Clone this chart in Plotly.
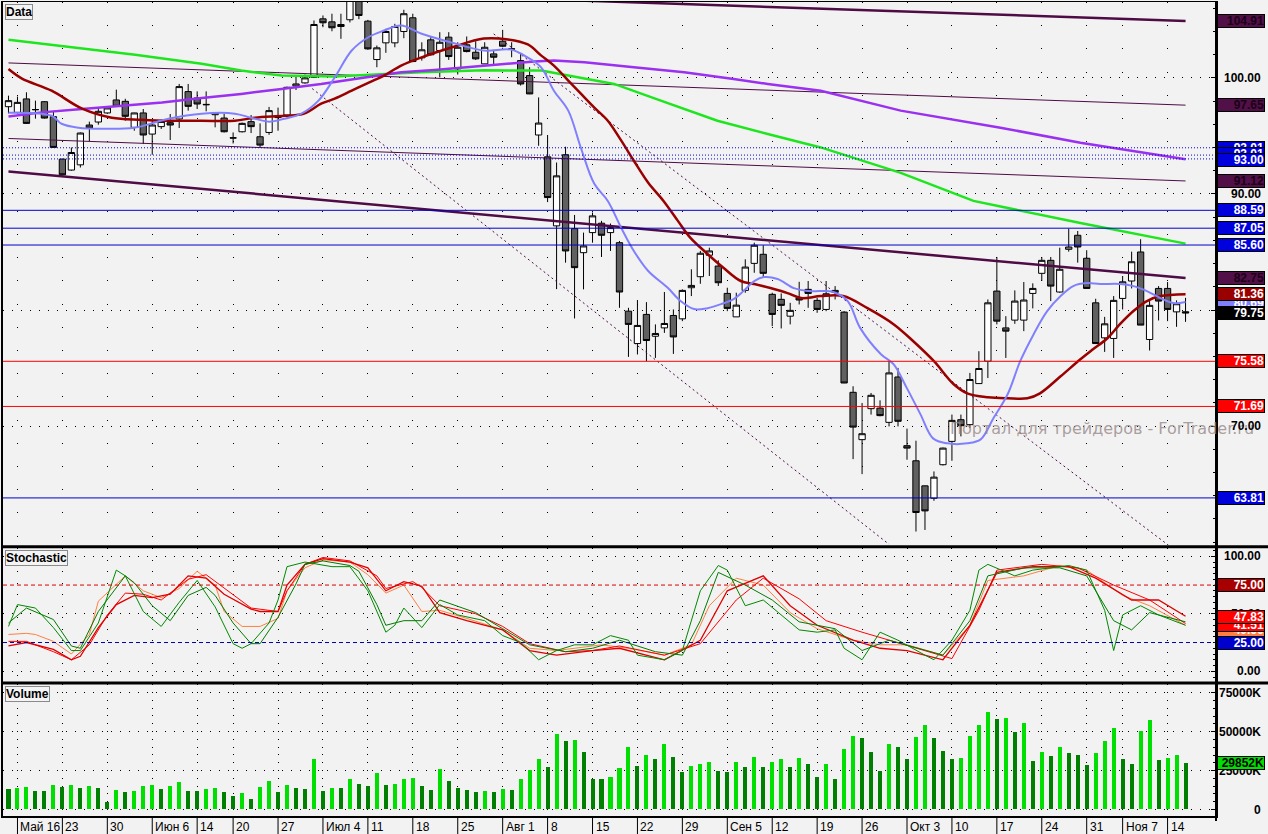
import plotly.graph_objects as go

FONT = "Liberation Sans, Arial, sans-serif"

# daily candles, 13 May - 16 Nov 2011 (one entry per trading day)
opens = [97.52, 97.03, 98.19, 97.26, 97.95, 96.66, 93.0, 92.06, 92.51, 95.94,
         96.2, 96.98, 98.1, 97.98, 95.74, 96.98, 95.16, 95.8, 96.14, 96.46,
         98.82, 98.27, 97.72, 96.83, 96.54, 94.84, 95.36, 96.23, 94.93, 95.3,
         96.58, 96.8, 99.31, 99.57, 100.05, 105.09, 104.83, 104.6, 105.01, 107.4,
         104.89, 101.58, 103.02, 103.02, 104.0, 105.18, 101.73, 103.28, 102.36, 103.51,
         100.78, 102.85, 102.21, 101.21, 102.07, 103.16, 102.48, 101.49, 100.2, 95.08,
         93.2, 87.25, 93.38, 87.01, 84.94, 86.67, 87.48, 86.67, 85.8, 79.9,
         77.11, 79.62, 77.74, 78.46, 79.53, 79.24, 81.92, 82.87, 84.72, 83.79,
         81.43, 79.41, 81.69, 84.02, 84.8, 81.35, 80.92, 79.47, 81.05, 81.78,
         80.83, 80.05, 81.52, 79.82, 72.91, 68.83, 71.5, 71.55, 70.32, 74.23,
         68.31, 67.01, 64.85, 63.78, 66.67, 68.68, 70.55, 70.12, 73.66, 75.59,
         81.63, 78.46, 79.13, 79.13, 81.43, 83.16, 84.28, 81.55, 85.23, 86.44,
         84.46, 80.62, 77.6, 77.55, 81.0, 82.5, 85.0, 77.46, 81.86, 81.86,
         79.84, 79.85]
highs = [98.47, 98.39, 98.76, 98.04, 98.0, 97.11, 93.05, 94.0, 95.3, 96.23,
         97.41, 97.55, 98.99, 98.2, 97.0, 97.32, 96.3, 96.45, 96.89, 99.48,
         99.48, 98.84, 98.84, 97.05, 96.89, 95.3, 96.15, 96.8, 96.08, 97.5,
         97.44, 99.25, 100.11, 100.29, 104.95, 105.38, 105.53, 105.53, 108.3, 108.0,
         105.0, 102.79, 104.23, 104.66, 105.87, 105.53, 103.07, 103.51, 103.94, 103.94,
         103.07, 103.57, 103.16, 103.07, 102.42, 104.14, 103.07, 102.07, 100.92, 98.32,
         95.08, 92.71, 94.07, 88.19, 86.67, 88.4, 87.68, 87.45, 85.95, 80.19,
         80.86, 80.68, 78.76, 81.55, 80.05, 81.78, 83.51, 85.09, 85.37, 84.28,
         81.92, 81.49, 84.37, 85.8, 85.58, 81.49, 81.43, 80.62, 82.43, 82.5,
         81.05, 82.5, 82.06, 79.9, 73.43, 71.99, 72.85, 72.22, 75.65, 75.01,
         69.78, 68.74, 64.87, 66.09, 68.15, 70.99, 70.99, 74.58, 76.45, 80.91,
         84.57, 79.47, 81.69, 82.41, 82.3, 84.57, 84.57, 85.37, 87.01, 86.81,
         85.15, 80.97, 79.41, 81.2, 82.93, 85.03, 86.1, 80.77, 82.06, 82.41,
         80.83, 81.05]
lows = [96.94, 96.92, 96.03, 96.49, 96.5, 94.0, 91.6, 92.0, 92.28, 94.53,
        95.97, 96.9, 97.5, 96.31, 95.45, 94.3, 93.38, 95.6, 94.65, 95.68,
        97.18, 97.32, 97.12, 95.74, 95.3, 94.35, 95.3, 95.25, 94.01, 95.1,
        95.45, 96.6, 98.96, 99.5, 100.0, 104.37, 104.02, 103.37, 104.78, 105.06,
        102.42, 100.92, 102.16, 102.64, 103.42, 101.35, 101.49, 101.93, 100.05, 101.55,
        100.29, 102.2, 101.55, 101.2, 101.06, 102.64, 101.78, 99.34, 98.6, 94.15,
        89.3, 81.8, 84.08, 79.27, 81.78, 85.8, 84.57, 85.09, 80.19, 75.96,
        76.17, 75.59, 75.87, 78.03, 76.22, 79.04, 81.2, 82.26, 82.93, 82.07,
        79.9, 79.41, 81.49, 83.21, 82.78, 78.61, 78.41, 78.76, 80.48, 80.19,
        79.76, 79.9, 80.91, 73.7, 67.15, 65.86, 70.99, 70.84, 69.97, 69.97,
        67.1, 60.91, 61.05, 63.56, 66.6, 67.01, 69.11, 69.83, 73.63, 74.14,
        78.76, 75.87, 78.81, 78.18, 80.14, 82.5, 80.77, 81.49, 85.03, 84.08,
        81.86, 77.1, 76.39, 75.87, 80.05, 81.86, 78.7, 76.51, 79.1, 79.04,
        78.55, 78.98]
closes = [98.04, 97.89, 96.08, 97.27, 96.54, 94.01, 91.65, 93.57, 95.25, 95.68,
          97.12, 97.41, 97.55, 96.69, 96.98, 95.08, 95.94, 96.25, 95.94, 99.25,
          97.55, 97.75, 97.69, 97.0, 95.36, 94.82, 96.08, 95.8, 94.21, 97.18,
          96.6, 99.19, 99.48, 100.0, 104.6, 104.75, 104.32, 104.43, 107.6, 105.38,
          102.5, 102.59, 104.0, 104.43, 105.53, 101.41, 102.42, 101.99, 103.07, 101.84,
          102.64, 102.27, 101.64, 102.64, 101.78, 102.73, 102.5, 99.48, 98.62, 96.11,
          89.69, 91.56, 85.09, 83.65, 85.52, 88.11, 86.44, 87.1, 81.55, 78.76,
          78.67, 77.37, 77.98, 78.84, 77.68, 81.69, 82.12, 84.89, 85.09, 82.35,
          80.14, 80.42, 83.7, 85.58, 83.16, 79.62, 80.4, 79.97, 80.86, 81.43,
          80.05, 81.4, 81.69, 73.71, 69.91, 69.34, 72.65, 70.9, 74.58, 70.41,
          68.1, 62.55, 62.69, 65.6, 68.1, 70.49, 70.03, 74.01, 74.96, 80.62,
          79.04, 78.18, 80.77, 80.86, 81.86, 84.28, 82.06, 83.51, 85.43, 85.43,
          81.86, 77.11, 78.81, 80.83, 82.43, 84.16, 78.7, 80.4, 80.77, 80.05,
          80.54, 79.75]
bar_index = list(range(len(closes)))

# volume, thousands of shares
volume_k = [13360, 14000, 14650, 12070, 12070, 15950, 14650, 15950, 14000, 15300,
            14000, 4960, 12700, 11420, 11600, 15300, 15400, 13360, 15300, 17890,
            12070, 12000, 13360, 14000, 11420, 8840, 10780, 6900, 14650, 18530,
            11420, 15950, 14000, 13360, 32110, 12070, 14000, 13900, 19830, 16590,
            15300, 23060, 15950, 16100, 19830, 20470, 15300, 12700, 25650, 18530,
            14000, 12700, 11420, 12070, 11420, 13360, 12700, 19830, 25000, 32110,
            26940, 48280, 43750, 44400, 36640, 19830, 19700, 21120, 26290, 39870,
            27590, 34700, 32110, 41810, 33400, 23700, 27590, 28880, 30170, 24350,
            23700, 30170, 26940, 33400, 26940, 30170, 32110, 26940, 32760, 28880,
            21120, 28880, 19830, 38580, 46980, 45690, 36640, 24350, 41810, 39870,
            32110, 46330, 54090, 45690, 37280, 32110, 32760, 46980, 54090, 62500,
            57970, 58620, 49570, 55390, 30820, 36640, 34050, 39870, 35990, 34700,
            28230, 35990, 43750, 52160, 32110, 28880, 50220, 57330, 31470, 32760,
            34700, 29852]

week_ticks = [1, 6, 11, 16, 21, 25, 30, 35, 40, 45, 50, 55, 60, 65, 70, 75,
              80, 85, 90, 95, 100, 105, 110, 115, 120, 124, 129]
week_labels = ["Май 16", "23", "30", "Июн 6", "14", "20", "27", "Июл 4", "11", "18",
               "25", "Авг 1", "8", "15", "22", "29", "Сен 5", "12", "19", "26",
               "Окт 3", "10", "17", "24", "31", "Ноя 7", "14"]

# moving averages (bar index, price)
ma_blue_x = [0, 4.8, 5.9, 7.8, 10.4, 14, 17.8, 21.5, 25.2, 27, 29, 30.7, 32.6, 34.5, 36.3,
             38.2, 40, 41.8, 43.7, 45.9, 49.3, 52.9, 55.9, 57.8, 59.3, 60.7, 62.3, 63.7,
             65.2, 66.7, 68.2, 69.6, 71.2, 73.4, 74.8, 76.3, 77.8, 79.3, 80.7, 81.8, 83,
             84.1, 85.6, 87.4, 89, 90.4, 91.8, 93.4, 94.8, 97.1, 98.5, 100, 101.5, 102.9,
             104.5, 106.7, 108.2, 109.6, 111.2, 112.6, 114.1, 115.6, 117.1, 118.5, 120,
             121.5, 123.7, 125.2, 126.7, 128.2, 129.6, 131]
ma_blue_y = [97.0, 96.74, 96.05, 95.71, 95.62, 95.71, 96.48, 96.92, 96.92, 96.57, 96.23,
             96.48, 96.92, 98.04, 100.03, 102.36, 103.48, 104.08, 104.52, 103.83, 103.05,
             102.36, 102.44, 101.75, 100.89, 98.9, 97.18, 93.98, 90.87, 89.4, 87.07, 85.09,
             83.36, 81.89, 80.77, 80.08, 80.16, 80.51, 80.94, 81.63, 82.49, 82.84, 82.67,
             81.89, 81.63, 81.63, 81.55, 80.77, 78.44, 76.19, 75.33, 73.25, 71.01, 68.94,
             68.51, 68.51, 68.85, 70.66, 72.74, 75.59, 77.92, 79.9, 81.2, 82.06, 82.32,
             82.24, 82.24, 82.06, 81.63, 81.03, 80.6, 80.69]
ma_red_x = [0, 1.5, 4.8, 8.2, 11.5, 14.8, 17.8, 21.5, 25.2, 27.4, 30.7, 32.9, 34.8, 36.3,
            38.2, 40.1, 41.8, 43.7, 45.9, 49.3, 52.9, 55.6, 57.8, 59.3, 60.7, 62.3, 63.7,
            65.2, 66.7, 68.2, 69.6, 71.2, 72.9, 74.5, 75.9, 77.8, 79.6, 81.5, 83, 84.8,
            86.7, 88.2, 90.4, 92.9, 95.6, 98.5, 100.7, 103, 105.2, 106.7, 109, 111.2,
            113.4, 114.8, 117.1, 119.3, 120.7, 122.3, 123.7, 125.2, 126.7, 128.2, 131]
ma_red_y = [100.76, 99.94, 98.9, 97.35, 96.57, 96.4, 96.31, 96.31, 96.31, 96.57, 96.74,
            96.92, 97.78, 98.21, 98.9, 99.59, 100.2, 101.06, 101.75, 102.62, 103.39,
            103.31, 102.88, 101.92, 101.06, 99.77, 98.64, 97.44, 96.31, 94.59, 92.86,
            90.96, 89.4, 87.68, 86.21, 84.83, 83.62, 82.5, 82.24, 81.89, 81.46, 81.03,
            81.2, 81.2, 80.16, 78.78, 77.31, 75.59, 73.6, 72.82, 72.48, 72.39, 72.39,
            72.82, 74.29, 75.76, 76.62, 77.57, 78.78, 79.91, 80.77, 81.2, 81.36]
ma_purple_x = [0, 3.7, 8.2, 12.6, 17.1, 21.5, 25.9, 30.4, 34.8, 39.3, 43.7, 47.4, 52.9,
               58.5, 60.7, 64.1, 69.6, 75.2, 80.7, 84.5, 90.4, 99.3, 110.4, 119.3, 131]
ma_purple_y = [96.68, 97.03, 97.32, 97.6, 97.89, 98.27, 98.62, 99.05, 99.48, 100.0, 100.48,
               100.69, 101.06, 101.41, 101.49, 101.35, 100.91, 100.48, 99.91, 99.48, 98.9,
               97.18, 95.71, 94.41, 93.0]
ma_green_x = [0, 6.7, 14.1, 21.5, 25.9, 30.4, 36.3, 45.9, 52.9, 59.3, 62.3, 67.4, 72.6,
              78.9, 84.5, 90.4, 99.3, 107.4, 119.3, 131]
ma_green_y = [103.28, 102.64, 101.99, 101.21, 100.63, 100.2, 100.11, 100.48, 100.66, 100.63,
              100.2, 99.48, 98.04, 96.31, 95.16, 94.01, 91.82, 89.4, 87.5, 85.72]

# drawn trend lines: (start bar, start price, end bar, end price)
channel_thick = [(40, 107.28, 131, 104.91), (0, 91.94, 131, 82.75)]
channel_thin = [(0, 101.29, 131, 97.65), (0, 94.78, 131, 91.12)]
channel_dashed = [(33.8, 99.08, 98.0, 59.81), (54.0, 103.79, 129.1, 59.73)]

red_levels = [75.58, 71.69]
blue_levels = [88.59, 87.05, 85.60, 63.81]
blue_dotted_levels = [93.98, 93.35, 93.02]

# stochastic oscillator lines (bar index, value)
stoch_green_fast_x = [0, 1, 3, 5, 7, 8, 10, 12, 13, 15, 17, 19, 21, 23, 25, 26, 27, 29, 30, 31,
                      33, 36, 38, 40, 42, 43, 44, 46, 48, 50, 53, 55, 57, 59, 61, 63, 65, 67,
                      69, 70, 73, 75, 77, 79, 80, 82, 84, 86, 88, 90, 92, 93, 95, 97, 99, 102,
                      103, 105, 107, 108, 109, 112, 114, 116, 118, 120, 122, 123, 124, 126,
                      128, 131]
stoch_green_fast_y = [39, 58, 55, 38, 18, 18, 42, 88, 83, 52, 39, 60, 79, 56, 24, 20, 24, 42,
                      62, 91, 95, 91, 91, 70, 34, 40, 55, 38, 58, 49, 44, 31, 25, 10, 18, 23,
                      23, 31, 27, 14, 10, 18, 70, 92, 88, 57, 62, 49, 36, 34, 36, 20, 10, 34,
                      27, 14, 10, 27, 53, 88, 93, 83, 88, 90, 92, 88, 53, 18, 49, 57, 49, 40]
stoch_green_slow_x = [0, 2, 5, 7, 8, 10, 13, 14, 16, 18, 20, 22, 23, 25, 27, 28, 30, 32, 33,
                      35, 38, 39, 41, 42, 44, 46, 48, 52, 55, 58, 62, 65, 68, 72, 75, 77, 79,
                      82, 85, 88, 92, 95, 98, 102, 104, 107, 109, 113, 117, 120, 123, 125,
                      127, 131]
stoch_green_slow_y = [42, 55, 45, 22, 20, 52, 83, 77, 57, 44, 66, 73, 66, 42, 24, 24, 47, 76,
                      93, 96, 92, 87, 58, 40, 44, 44, 62, 51, 37, 23, 17, 20, 27, 17, 14, 44,
                      86, 75, 62, 43, 37, 18, 27, 18, 14, 44, 83, 90, 90, 83, 44, 36, 51, 43]
stoch_orange_x = [0, 2, 3, 5, 7, 9, 10, 13, 15, 17, 19, 21, 23, 24, 26, 28, 30, 31, 33, 35,
                  38, 40, 42, 44, 46, 48, 51, 55, 58, 61, 66, 69, 73, 76, 78, 81, 84, 87, 90,
                  94, 97, 100, 104, 107, 109, 113, 117, 120, 124, 127, 131]
stoch_orange_y = [32, 33, 32, 26, 15, 32, 61, 83, 70, 64, 72, 87, 75, 52, 39, 39, 46, 70, 90,
                  97, 95, 84, 68, 75, 52, 53, 46, 36, 20, 18, 23, 20, 14, 23, 57, 81, 75, 51,
                  37, 27, 23, 23, 14, 40, 79, 83, 92, 88, 66, 57, 40]
stoch_red_x = [0, 2, 5, 7, 8, 10, 12, 14, 16, 18, 20, 22, 24, 27, 28, 30, 31, 33, 35, 38, 40,
               42, 44, 46, 48, 51, 55, 58, 61, 65, 68, 73, 77, 80, 84, 87, 90, 94, 97, 100,
               104, 107, 110, 114, 118, 121, 125, 128, 131]
stoch_red_y = [22, 25, 19, 10, 13, 38, 58, 66, 64, 67, 83, 81, 67, 54, 52, 52, 75, 93, 98, 95,
               90, 70, 78, 74, 51, 44, 36, 18, 14, 18, 20, 10, 27, 70, 83, 57, 40, 27, 20, 18,
               10, 40, 86, 91, 91, 81, 62, 62, 47.83]
stoch_red2_x = [0, 2, 5, 7, 9, 11, 13, 15, 17, 20, 22, 25, 27, 30, 31, 33, 35, 38, 41, 42, 45,
                46, 48, 52, 55, 58, 62, 65, 68, 73, 77, 81, 84, 88, 91, 95, 98, 101, 105, 108,
                110, 115, 119, 123, 127, 131]
stoch_red2_y = [26, 26, 17, 10, 23, 49, 68, 67, 62, 80, 84, 67, 55, 52, 70, 93, 99, 96, 83, 72,
                78, 73, 57, 50, 39, 24, 17, 18, 22, 14, 24, 62, 81, 63, 44, 34, 27, 20, 11,
                53, 88, 93, 90, 75, 62, 41.51]

PRICE_RANGE = [59.70, 106.54]
STOCH_RANGE = [-9.1, 107.2]
VOL_RANGE = [-4820, 80590]
X_RANGE = [-0.61, 134.39]

fig = go.Figure()

# price panel
fig.add_trace(go.Candlestick(
    x=bar_index, open=opens, high=highs, low=lows, close=closes,
    increasing=dict(line=dict(color="black", width=1), fillcolor="white"),
    decreasing=dict(line=dict(color="black", width=1), fillcolor="#606060"),
    whiskerwidth=0, xaxis="x", yaxis="y", hoverinfo="skip",
))
for x0, y0, x1, y1 in channel_thin:
    fig.add_trace(go.Scatter(x=[x0, x1], y=[y0, y1], mode="lines",
                             line=dict(color="#4E0B45", width=1)))
for x0, y0, x1, y1 in channel_thick:
    fig.add_trace(go.Scatter(x=[x0, x1], y=[y0, y1], mode="lines",
                             line=dict(color="#4E0B45", width=2.5)))
for x0, y0, x1, y1 in channel_dashed:
    fig.add_trace(go.Scatter(x=[x0, x1], y=[y0, y1], mode="lines",
                             line=dict(color="#4E0B45", width=1, dash="2px,3px")))
fig.add_trace(go.Scatter(x=ma_green_x, y=ma_green_y, mode="lines",
                         line=dict(color="#1EE61E", width=2.5)))
fig.add_trace(go.Scatter(x=ma_purple_x, y=ma_purple_y, mode="lines",
                         line=dict(color="#9A30F0", width=2.5)))
fig.add_trace(go.Scatter(x=ma_red_x, y=ma_red_y, mode="lines",
                         line=dict(color="#990000", width=2.5, shape="spline")))
fig.add_trace(go.Scatter(x=ma_blue_x, y=ma_blue_y, mode="lines",
                         line=dict(color="#8080FF", width=2, shape="spline")))

# stochastic panel
for xs, ys, col, w in [
    (stoch_orange_x, stoch_orange_y, "#FF7F40", 1),
    (stoch_red2_x, stoch_red2_y, "#FF0000", 1),
    (stoch_red_x, stoch_red_y, "#E00000", 1.3),
    (stoch_green_slow_x, stoch_green_slow_y, "#007A00", 1),
    (stoch_green_fast_x, stoch_green_fast_y, "#008800", 1),
]:
    fig.add_trace(go.Scatter(x=xs, y=ys, mode="lines", xaxis="x2", yaxis="y2",
                             line=dict(color=col, width=w)))

# volume panel: light green when volume rose versus the previous day
vol_colors = ["#008000"] + ["#00E000" if volume_k[i] > volume_k[i - 1] else "#008000"
                            for i in range(1, len(volume_k))]
fig.add_trace(go.Bar(x=bar_index, y=volume_k, marker=dict(color=vol_colors, line_width=0),
                     width=0.45, xaxis="x3", yaxis="y3"))

grid_x = dict(range=X_RANGE, showticklabels=False, tickvals=week_ticks, ticks="",
              showgrid=True, gridcolor="black", gridwidth=1, zeroline=False,
              showline=True, linecolor="black", linewidth=1, mirror=True,
              fixedrange=True)
axis_y = dict(side="right", showticklabels=False, ticks="inside", ticklen=5,
              tickcolor="black", showgrid=True, gridcolor="black", gridwidth=1,
              griddash="1px,8px", zeroline=False, showline=True, linecolor="black",
              linewidth=2, mirror=True, fixedrange=True)

fig.update_layout(
    width=1268, height=834,
    margin=dict(l=1, r=52, t=1, b=17),
    paper_bgcolor="#F2F2F2", plot_bgcolor="#F2F2F2",
    showlegend=False, hovermode=False, bargap=0,
    boxgap=0.3, boxgroupgap=0.0,
    font=dict(family=FONT, size=12, color="black"),
    xaxis=dict(grid_x, anchor="y", griddash="1px,22.2px", rangeslider=dict(visible=False)),
    xaxis2=dict(grid_x, anchor="y2", matches="x", griddash="1px,10.5px"),
    xaxis3=dict(grid_x, anchor="y3", matches="x", griddash="1px,6.8px"),
    yaxis=dict(axis_y, domain=[0.333, 1.0], range=PRICE_RANGE, tickvals=[70, 80, 90, 100],
               minor=dict(dtick=2, ticks="inside", ticklen=3, tickcolor="black")),
    yaxis2=dict(axis_y, domain=[0.166, 0.330], range=STOCH_RANGE, tickvals=[0, 50, 100],
                minor=dict(dtick=5, ticks="inside", ticklen=3, tickcolor="black")),
    yaxis3=dict(axis_y, domain=[0.0, 0.163], range=VOL_RANGE,
                tickvals=[0, 25000, 50000, 75000],
                minor=dict(dtick=5000, ticks="inside", ticklen=3, tickcolor="black")),
)

shapes = []
for lv in red_levels:
    shapes.append(dict(type="line", xref="paper", x0=0, x1=1, yref="y", y0=lv, y1=lv,
                       line=dict(color="#FF0000", width=1)))
for lv in blue_levels:
    shapes.append(dict(type="line", xref="paper", x0=0, x1=1, yref="y", y0=lv, y1=lv,
                       line=dict(color="#0000CC", width=1)))
for lv in blue_dotted_levels:
    shapes.append(dict(type="line", xref="paper", x0=0, x1=1, yref="y", y0=lv, y1=lv,
                       line=dict(color="#0000DD", width=1, dash="1px,2px")))
shapes.append(dict(type="line", xref="paper", x0=0, x1=1, yref="y2", y0=75, y1=75,
                   line=dict(color="#DD0000", width=1, dash="4px,3px")))
shapes.append(dict(type="line", xref="paper", x0=0, x1=1, yref="y2", y0=25, y1=25,
                   line=dict(color="#0000AA", width=1, dash="4px,3px")))
# panel separators across the whole width
for yp in [0.3315, 0.1645]:
    shapes.append(dict(type="line", xref="paper", x0=0, x1=1.05, yref="paper", y0=yp, y1=yp,
                       line=dict(color="black", width=3)))
shapes.append(dict(type="line", xref="paper", x0=0, x1=1.0, yref="paper", y0=0, y1=0,
                   line=dict(color="black", width=2)))
shapes.append(dict(type="line", xref="paper", x0=1.0, x1=1.0, yref="paper", y0=-0.005, y1=1,
                   line=dict(color="black", width=2)))
for t in week_ticks:
    shapes.append(dict(type="line", xref="x3", x0=t, x1=t, yref="paper", y0=0, y1=-0.022,
                       line=dict(color="black", width=1)))
fig.update_layout(shapes=shapes)

annotations = []

# watermark
annotations.append(dict(xref="paper", yref="y", x=0.779, y=69.8, xanchor="left",
                        yanchor="middle", showarrow=False,
                        text="Портал для трейдеров - ForTrader.ru",
                        font=dict(family="DejaVu Sans, sans-serif", size=16,
                                  color="rgba(150,135,135,0.8)")))


def tick_label(yref, y, text):
    return dict(xref="paper", yref=yref, x=1.0387, y=y, xanchor="right", yanchor="middle",
                showarrow=False, text=f"<b>{text}</b>",
                font=dict(family=FONT, size=12, color="black"))


def value_tag(yref, y, text, bg, fg="white"):
    return dict(xref="paper", yref=yref, x=1.0012, y=y, xanchor="left", yanchor="middle",
                showarrow=False, text=f"<b>{text}</b>", align="right", width=46, height=12,
                bgcolor=bg, bordercolor="black", borderwidth=1, borderpad=0,
                font=dict(family=FONT, size=12, color=fg))


for v, t in [(100, "100.00"), (90, "90.00"), (80, "80.00"), (70, "70.00")]:
    annotations.append(tick_label("y", v, t))
for v, t in [(100, "100.00"), (50, "50.00"), (0, "0.00")]:
    annotations.append(tick_label("y2", v, t))
for v, t in [(75000, "75000K"), (50000, "50000K"), (25000, "25000K"), (0, "0")]:
    annotations.append(tick_label("y3", v, t))

PURPLE_TAG = "#521048"
annotations += [
    value_tag("y", 104.91, "104.91", PURPLE_TAG, "#1A0016"),
    value_tag("y", 97.65, "97.65", PURPLE_TAG, "#1A0016"),
    value_tag("y", 93.97, "93.01", "#0000DD"),
    value_tag("y", 93.45, "93.01", "#0000DD"),
    value_tag("y", 92.95, "93.00", "#0000DD"),
    value_tag("y", 91.12, "91.12", PURPLE_TAG, "#1A0016"),
    value_tag("y", 88.59, "88.59", "#0000DD"),
    value_tag("y", 87.05, "87.05", "#0000DD"),
    value_tag("y", 85.60, "85.60", "#0000DD"),
    value_tag("y", 82.75, "82.75", PURPLE_TAG, "#1A0016"),
    value_tag("y", 80.62, "80.69", "#8080FF"),
    value_tag("y", 81.36, "81.36", "#990000"),
    value_tag("y", 79.70, "79.75", "black"),
    value_tag("y", 75.58, "75.58", "#FF0000"),
    value_tag("y", 71.69, "71.69", "#FF0000"),
    value_tag("y", 63.81, "63.81", "#0000DD"),
    value_tag("y2", 75.0, "75.00", "#A80000"),
    value_tag("y2", 36.0, "40.66", "#FF7F40"),
    value_tag("y2", 40.0, "41.51", "#FF0000"),
    value_tag("y2", 47.3, "47.83", "#FF0000"),
    value_tag("y2", 25.0, "25.00", "#0000CC"),
    value_tag("y3", 29852, "29852K", "#00E000", "black"),
]

# panel titles
for yd, title in [(1.0, "Data"), (0.330, "Stochastic"), (0.163, "Volume")]:
    annotations.append(dict(xref="paper", yref="paper", x=0.0015, y=yd - 0.002,
                            xanchor="left", yanchor="top", showarrow=False,
                            text=f"<b>{title}</b>", bgcolor="#F4F4F4", bordercolor="#8A8A8A",
                            borderwidth=1, borderpad=0,
                            font=dict(family=FONT, size=12, color="black")))

# date labels under the volume panel
for t, lab in zip(week_ticks, week_labels):
    annotations.append(dict(xref="x3", yref="paper", x=t, y=0, xanchor="left", yanchor="top",
                            xshift=1, yshift=-1, showarrow=False, text=lab,
                            font=dict(family=FONT, size=12, color="black")))

fig.update_layout(annotations=annotations)

# the page body has a default margin; remove it so the figure sits at the window corner
fig.write_html("out.html", config={"displayModeBar": False},
               post_script="document.body.style.margin='0';")
